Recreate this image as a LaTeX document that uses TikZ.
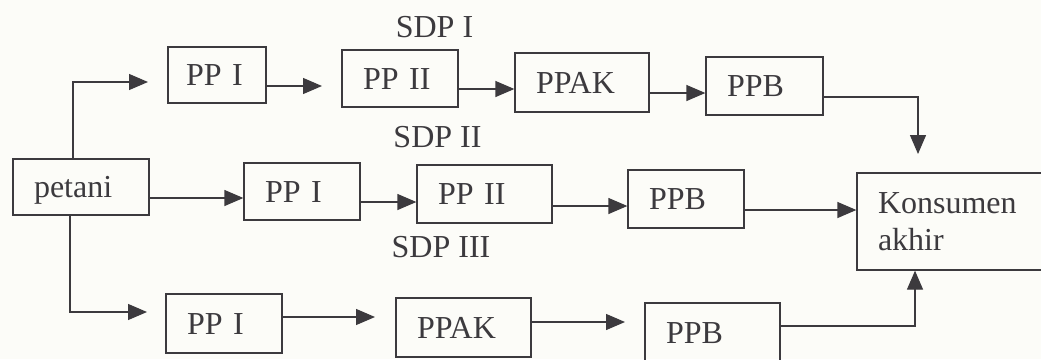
\documentclass[tikz,border=0pt]{standalone}
\usepackage{fontspec}
\setmainfont{Liberation Serif}
\usetikzlibrary{arrows.meta}
\definecolor{ink}{RGB}{60,58,62}
\definecolor{paper}{RGB}{252,252,248}
\begin{document}
\begin{tikzpicture}[x=1pt,y=-1pt,
  box/.style={draw=ink, line width=1.3pt, rectangle, inner xsep=21pt, inner ysep=0pt,
    align=left, text=ink, text height=21pt, text depth=0pt,
    font=\fontsize{32}{37}\selectfont},
  lbl/.style={text=ink, inner sep=0pt, anchor=base, font=\fontsize{32}{37}\selectfont},
  arr/.style={draw=ink, line width=1.3pt, -{Triangle[length=19pt,width=16pt]}}]
\useasboundingbox (0,0) rectangle (1041,359);
\clip (0,0) rectangle (1041,359);
\fill[paper] (0,0) rectangle (1041,359);
% boxes
\node[box, minimum height=56pt, text width=94pt] (petani) at (81,187) {petani};
\node[box, minimum height=56pt, inner xsep=18pt, text width=62pt] (tPPa) at (217,75) {PP I};
\node[box, minimum height=57pt, text width=74pt] (tPPb) at (400,78.5) {PP II};
\node[box, minimum height=59pt, text width=92pt] (tPPAK) at (582,82.5) {PPAK};
\node[box, minimum height=58pt, text width=75pt] (tPPB) at (764.5,86) {PPB};
\node[box, minimum height=57pt, text width=74pt] (mPPa) at (302,191.5) {PP I};
\node[box, minimum height=58pt, text width=93pt] (mPPb) at (484.5,194) {PP II};
\node[box, minimum height=58pt, text width=74pt] (mPPB) at (686,199) {PPB};
\node[box, minimum height=97pt, text width=161pt, text height=, text depth=] (kons) at (958.5,221.5) {Konsumen\\akhir};
\node[box, minimum height=59pt, text width=74pt] (bPPa) at (224,323.5) {PP I};
\node[box, minimum height=59pt, text width=93pt] (bPPAK) at (463.5,327.5) {PPAK};
\node[box, minimum height=59pt, text width=93pt] (bPPB) at (712.5,332.5) {PPB};
% labels
\node[lbl] (sdp1) at (434.5,37) {SDP I};
\node[lbl] (sdp2) at (437.5,147) {SDP II};
\node[lbl] (sdp3) at (441,257) {SDP III};
% free arrow ends
\coordinate (e1) at (148,82);
\coordinate (e2) at (322,86);
\coordinate (e3) at (918,154);
\coordinate (e4) at (147,312);
\coordinate (e5) at (375,317);
\coordinate (e6) at (625,322);
% top row
\draw[arr] ([xshift=-8pt]petani.north) |- (e1);
\draw[arr] (tPPa.east |- e2) -- (e2);
\draw[arr] (tPPb.east |- 0,89) -- (tPPAK.west |- 0,89);
\draw[arr] (tPPAK.east |- 0,93) -- (tPPB.west |- 0,93);
\draw[arr] (tPPB.east |- 0,97) -| (e3);
% middle row
\draw[arr] (petani.east |- 0,198) -- (mPPa.west |- 0,198);
\draw[arr] (mPPa.east |- 0,202) -- (mPPb.west |- 0,202);
\draw[arr] (mPPb.east |- 0,206) -- (mPPB.west |- 0,206);
\draw[arr] (mPPB.east |- 0,210) -- (kons.west |- 0,210);
% bottom row
\draw[arr] ([xshift=-11pt]petani.south) |- (e4);
\draw[arr] (bPPa.east |- e5) -- (e5);
\draw[arr] (bPPAK.east |- e6) -- (e6);
\draw[arr] (bPPB.east |- 0,326) -| (915,0 |- kons.south);
\end{tikzpicture}
\end{document}
